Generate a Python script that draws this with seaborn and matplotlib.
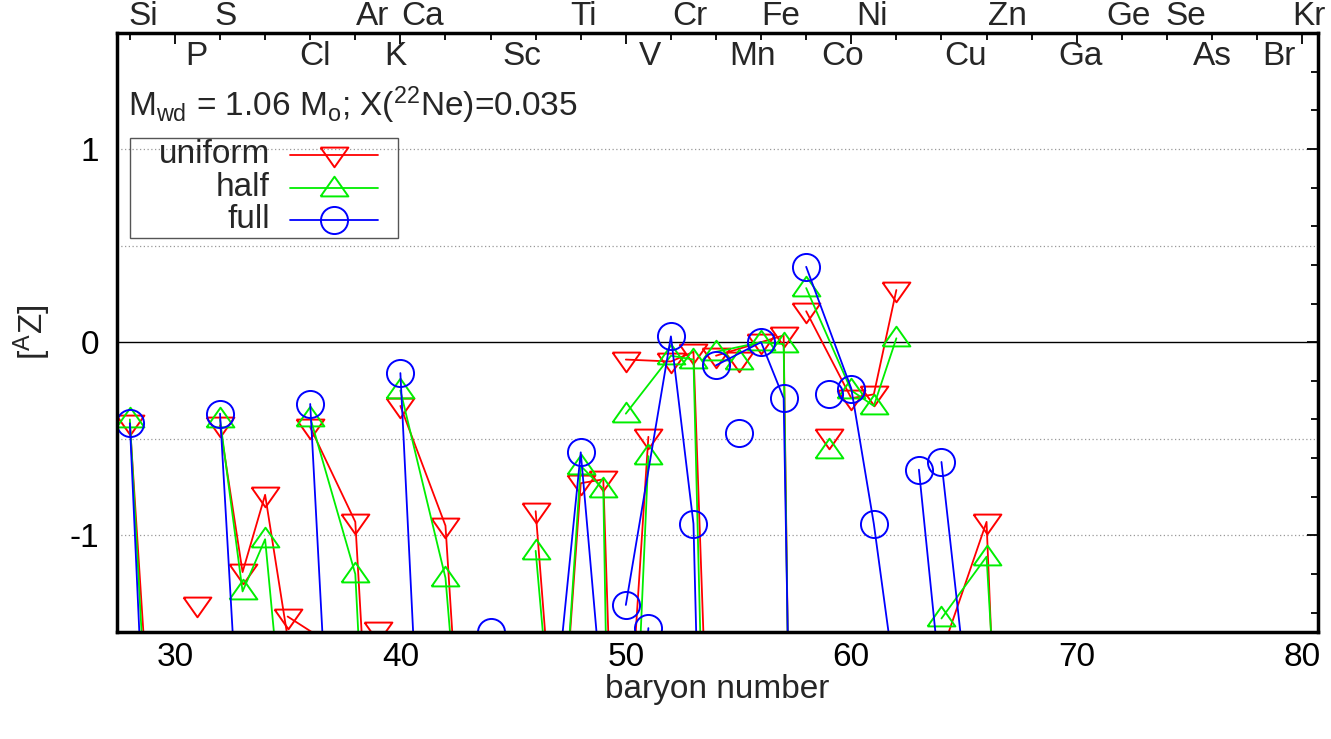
import numpy as np
import pandas as pd
import matplotlib
matplotlib.use("Agg")
import matplotlib.pyplot as plt
import matplotlib.transforms as mtransforms
from matplotlib.lines import Line2D
from matplotlib.patches import Rectangle
import seaborn as sns

# isotopes (element, baryon number) and [AZ] for the three models
element = ["Si", "Si", "P", "S", "S", "S", "S", "Cl", "Cl", "Ar", "Ar", "Ar", "K",
           "Ca", "Ca", "Ca", "Ca", "Ti", "Ti", "Ti", "Ti", "Ti", "V", "V",
           "Cr", "Cr", "Cr", "Cr", "Mn", "Fe", "Fe", "Fe", "Fe", "Co",
           "Ni", "Ni", "Ni", "Ni", "Cu", "Cu", "Zn", "Zn", "Zn"]
baryon = [28, 29, 31, 32, 33, 34, 36, 35, 37, 36, 38, 40, 39,
          40, 42, 43, 44, 46, 47, 48, 49, 50, 50, 51,
          50, 52, 53, 54, 55, 54, 56, 57, 58, 59,
          58, 60, 61, 62, 63, 65, 64, 66, 67]
uniform = [-0.42, -2.22, -1.36, -0.43, -1.19, -0.79, -2.27, -1.42, -1.57, -0.44, -0.93, -5.0, -1.49,
           -0.33, -0.95, -2.78, -3.0, -0.875, -2.37, -0.73, -0.71, -4.3, -2.29, -0.49,
           -0.09, -0.10, -0.05, -3.35, -0.09, -0.07, 0.0, 0.035, -8.5, -0.49,
           0.16, -0.29, -0.27, 0.27, -3.0, -3.2, -1.61, -0.93, -3.8]
half = [-0.40, -2.52, -2.0, -0.40, -1.29, -1.02, -3.48, -2.5, -2.5, -0.39, -1.20, -5.8, -2.0,
        -0.25, -1.22, -2.62, -3.0, -1.08, -2.4, -0.64, -0.76, -7.5, -3.27, -0.59,
        -0.37, -0.07, -0.09, -4.8, -0.10, -0.05, 0.0, -0.01, -8.5, -0.56,
        0.28, -0.25, -0.33, 0.02, -3.0, -3.0, -1.43, -1.11, -3.1]
full = [-0.42, -2.99, -2.5, -0.37, -2.39, -2.5, -3.0, -3.0, -3.0, -0.32, -4.7, -5.0, -3.0,
        -0.16, -4.9, -4.0, -1.50, -3.0, -1.73, -0.57, -1.9, -4.0, -3.0, -1.48,
        -1.36, 0.03, -0.94, -5.6, -0.47, -0.12, 0.0, -0.29, -7.0, -0.27,
        0.39, -0.24, -0.94, -1.8, -0.66, -2.96, -0.62, -2.72, -4.0]

# element names along the top, two staggered rows
upper_names = ["Si", "S", "Ar", "Ca", "Ti", "Cr", "Fe", "Ni", "Zn", "Ge", "Se", "Kr"]
upper_pos = [28.59, 32.23, 38.75, 40.97, 48.11, 52.86, 56.89, 60.93, 66.92, 72.29, 74.86, 80.31]
lower_names = ["P", "Cl", "K", "Sc", "V", "Mn", "Co", "Cu", "Ga", "As", "Br"]
lower_pos = [30.94, 36.2, 39.77, 45.4, 51.08, 55.61, 59.6, 65.06, 70.15, 76.0, 78.98]

models = ["uniform", "half", "full"]
colors = {"uniform": "#ff0000", "half": "#00ee00", "full": "#0000ff"}
# gnuplot-like flat triangles
down_tri = [(-1, 0.57), (1, 0.57), (0, -0.85), (-1, 0.57)]
up_tri = [(-1, -0.57), (1, -0.57), (0, 0.85), (-1, -0.57)]
markers = {"uniform": down_tri, "half": up_tri, "full": "o"}
msize = {"uniform": 20, "half": 20, "full": 19.5}

sns.set_style("white")
plt.rcParams["font.family"] = ["Liberation Sans", "DejaVu Sans"]
plt.rcParams["mathtext.default"] = "regular"
plt.rcParams["axes.unicode_minus"] = False
FS = 24

df = pd.DataFrame({"element": element, "A": baryon,
                   "uniform": uniform, "half": half, "full": full})
long = df.melt(id_vars=["element", "A"], var_name="model", value_name="val")

fig = plt.figure(figsize=(13.31, 7.39), dpi=100)
ax = fig.add_axes([0.0879, 0.1448, 0.9023, 0.8105])

for y in [-1, -0.5, 0.5, 1]:
    ax.axhline(y, color="#999999", lw=0.9, ls=(0, (1, 2)), zorder=0)
ax.axhline(0, color="black", lw=1.0, zorder=0)

for m in models:
    sub = long[long["model"] == m]
    sns.lineplot(data=sub, x="A", y="val", units="element", estimator=None,
                 color=colors[m], marker=markers[m], ms=msize[m], mfc="none",
                 mec=colors[m], mew=1.4, lw=1.3, legend=False, ax=ax)

ax.set_xlim(27.43, 80.7)
ax.set_ylim(-1.5, 1.6)
ax.set_xticks(np.arange(30, 81, 10))
ax.set_xticks(np.arange(28, 81, 2), minor=True)
ax.set_yticks([-1, 0, 1])
ax.set_yticks(np.arange(-1.4, 1.61, 0.2), minor=True)
ax.tick_params(which="both", direction="in", top=True, right=True,
               labelsize=FS, width=1.3, colors="black")
ax.tick_params(which="major", length=8)
ax.tick_params(which="minor", length=5)
ax.tick_params(axis="x", pad=7)
ax.tick_params(axis="y", pad=13)
for s in ax.spines.values():
    s.set_linewidth(2.5)
    s.set_color("black")

ax.set_xlabel("baryon number", fontsize=FS, labelpad=1)
ax.set_ylabel(r"[$^{A}$Z]", fontsize=FS, labelpad=12)

trans = mtransforms.blended_transform_factory(ax.transData, ax.transAxes)
for n, p in zip(upper_names, upper_pos):
    ax.text(p, 1.028, n, transform=trans, ha="center", va="center", fontsize=FS, clip_on=False)
for n, p in zip(lower_names, lower_pos):
    ax.text(p, 0.96, n, transform=trans, ha="center", va="center", fontsize=FS)

ax.text(0.009, 0.88, r"M$_{wd}$ = 1.06 M$_{o}$; X($^{22}$Ne)=0.035",
        transform=ax.transAxes, ha="left", va="center", fontsize=FS)

# gnuplot style key: right aligned text followed by sample
ax.add_patch(Rectangle((0.0108, 0.6578), 0.2232, 0.1669, transform=ax.transAxes,
                       fill=False, ec="#555555", lw=1.0, zorder=5))
for m, yk in zip(models, [0.7972, 0.7421, 0.6886]):
    ax.text(0.1274, yk, m, transform=ax.transAxes, ha="right", va="center", fontsize=FS)
    ax.add_line(Line2D([0.144, 0.2173], [yk, yk], transform=ax.transAxes,
                       color=colors[m], lw=1.3))
    ax.add_line(Line2D([0.1807], [yk], transform=ax.transAxes, color=colors[m],
                       marker=markers[m], ms=msize[m], mfc="none", mec=colors[m], mew=1.4))

fig.savefig("out.png", dpi=100)
